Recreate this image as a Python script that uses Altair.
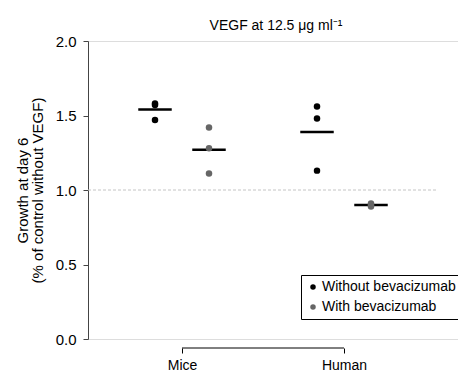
import altair as alt
import pandas as pd

# ---- data ----
groups = ["Mice", "Mice", "Human", "Human"]
treatments = ["Without bevacizumab", "With bevacizumab", "Without bevacizumab", "With bevacizumab"]
positions = [1, 2, 4, 5]
values = [
    [1.58, 1.57, 1.47],   # mice without
    [1.42, 1.28, 1.11],   # mice with
    [1.56, 1.48, 1.13],   # human without
    [0.91, 0.89, 0.90],   # human with
]
group_labels = ["Mice", "Human"]
group_label_pos = [1.5, 4.5]
y_ticks = [0.0, 0.5, 1.0, 1.5, 2.0]
reference_value = 1.0

# ---- layout / style ----
W, H = 370, 298
X_DOMAIN = [-0.2407, 6.611]
REF_X_END = 6.22
HALF_BAR = 0.31
BRACKET_OFFSET = 9
FONT = "Liberation Sans"
BLACK = "#000000"
GREY = "#666666"

rows = []
for g, t, p, vals in zip(groups, treatments, positions, values):
    for v in vals:
        rows.append({"group": g, "treatment": t, "pos": p, "value": v})
pts = pd.DataFrame(rows)

means = pts.groupby(["pos", "treatment"], as_index=False)["value"].mean()
means["x0"] = means["pos"] - HALF_BAR
means["x1"] = means["pos"] + HALF_BAR

xs = alt.Scale(domain=X_DOMAIN, nice=False, zero=False)
ys = alt.Scale(domain=[0, 2], nice=False)

label_expr = "datum.value == 1.5 ? 'Mice' : 'Human'"

x_axis = alt.Axis(values=group_label_pos, labelExpr=label_expr, domain=False,
                  tickSize=5, tickColor=BLACK, offset=BRACKET_OFFSET, labelPadding=5,
                  labelFontSize=14, labelColor=BLACK, title=None, grid=False,
                  labelFont=FONT)
y_axis = alt.Axis(values=y_ticks, format=".1f", tickSize=5, tickColor="#444444",
                  domainColor="#444444", labelPadding=7, labelFontSize=15,
                  labelColor=BLACK, labelFont=FONT, grid=False,
                  title=["Growth at day 6", "(% of control without VEGF)"],
                  titleFontSize=15, titleFontWeight="normal", titleColor=BLACK,
                  titleFont=FONT, titlePadding=10, titleLineHeight=15)

ref_df = pd.DataFrame({"x0": [X_DOMAIN[0]], "x1": [REF_X_END], "y": [reference_value]})
ref = alt.Chart(ref_df).mark_rule(color="#c4c4c4", strokeDash=[3, 2], strokeWidth=1).encode(
    x=alt.X("x0:Q", scale=xs, axis=x_axis), x2="x1:Q",
    y=alt.Y("y:Q", scale=ys, axis=y_axis))

bracket_df = pd.DataFrame({"x0": [group_label_pos[0]], "x1": [group_label_pos[1]]})
bracket = alt.Chart(bracket_df).mark_rule(color=BLACK, strokeWidth=1).encode(
    x=alt.X("x0:Q", scale=xs), x2="x1:Q", y=alt.value(H + BRACKET_OFFSET))

mean_lines = alt.Chart(means).mark_rule(color=BLACK, strokeWidth=2.5).encode(
    x=alt.X("x0:Q", scale=xs), x2="x1:Q", y=alt.Y("value:Q", scale=ys))

color = alt.Color("treatment:N",
                  scale=alt.Scale(domain=["Without bevacizumab", "With bevacizumab"],
                                  range=[BLACK, GREY]),
                  legend=alt.Legend(title=None, orient="none", legendX=213, legendY=234,
                                    strokeColor=BLACK, fillColor="white", padding=5,
                                    symbolType="circle", symbolSize=30, symbolStrokeWidth=0,
                                    labelFontSize=14, labelFont=FONT, labelColor=BLACK,
                                    rowPadding=6, labelOffset=2))

points = alt.Chart(pts).mark_circle(size=42, opacity=1).encode(
    x=alt.X("pos:Q", scale=xs), y=alt.Y("value:Q", scale=ys), color=color)

chart = alt.layer(ref, bracket, mean_lines, points).properties(
    width=W, height=H,
    title=alt.TitleParams("VEGF at 12.5 μg ml⁻¹", fontSize=14, fontWeight="normal",
                          font=FONT, color=BLACK, anchor="middle", frame="group",
                          offset=1, dx=3),
    autosize=alt.AutoSizeParams(type="none"),
    padding={"left": 80, "top": 33, "right": 0, "bottom": 32},
).configure_view(stroke=None).configure(background="white")

chart.save("out.html", embed_options={"renderer": "svg", "actions": False})
